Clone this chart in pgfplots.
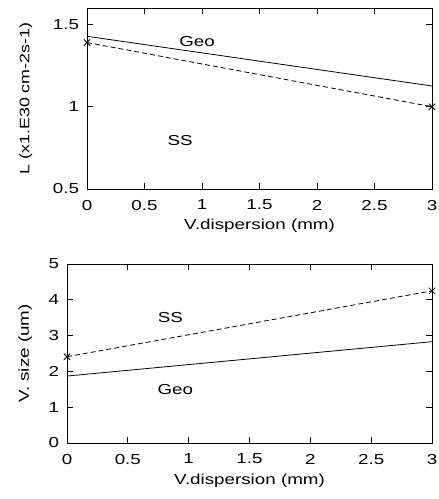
\documentclass[border=0pt]{standalone}
\usepackage{pgfplots}
\pgfplotsset{compat=1.18}
\usepackage{fontspec}
\setmainfont{Liberation Sans}[FakeStretch=1.3]
\begin{document}
\begin{tikzpicture}
\pgfplotsset{
  every axis/.append style={
    scale only axis,
    font=\fontsize{14.5}{16}\selectfont,
    /pgf/number format/assume math mode=true,
    tick align=inside,
    major tick length=6bp,
    tick style={black, line width=0.7pt},
    axis line style={line width=0.9pt},
    xmin=0, xmax=3,
    xtick={0,0.5,...,3},
    xticklabels={0,0.5,1,1.5,2,2.5,3},
    xticklabel style={yshift=-7.5bp},
    yticklabel style={xshift=-4.5bp},
    xlabel={V.dispersion (mm)},
    every axis plot/.append style={line width=0.8pt, black},
    clip=false,
  }
}
\begin{axis}[
  at={(87bp,310bp)}, anchor=south west,
  width=345bp, height=181bp,
  ymin=0.5, ymax=1.6,
  ytick={0.5,1,1.5},
  yticklabels={0.5,1,1.5},
  ylabel={L (x1.E30 cm-2s-1)},
  xlabel style={at={(axis description cs:0.5,0)}, anchor=north, yshift=-26.5bp},
  ylabel style={at={(axis description cs:-0.177,0.5)}, anchor=center, font=\fontsize{13.8}{16}\selectfont},
]
\addplot[solid, no marks] coordinates {(0,1.428) (3,1.126)};
\addplot[dash pattern=on 5bp off 3bp, mark=x, mark size=4.5bp, mark options={solid}] coordinates {(0,1.39) (3,1.0)};
\node at (axis cs:0.957,1.398) {Geo};
\node at (axis cs:0.81,0.795) {SS};
\end{axis}
\begin{axis}[
  at={(67bp,56bp)}, anchor=south west,
  width=365bp, height=179bp,
  ymin=0, ymax=5,
  ytick={0,1,2,3,4,5},
  ylabel={V. size (um)},
  xlabel style={at={(axis description cs:0.5,0)}, anchor=north, yshift=-27.5bp},
  ylabel style={at={(axis description cs:-0.115,0.5)}, anchor=center},
]
\addplot[solid, no marks] coordinates {(0,1.87) (3,2.83)};
\addplot[dash pattern=on 5bp off 3bp, mark=x, mark size=4.5bp, mark options={solid}] coordinates {(0,2.41) (3,4.25)};
\node at (axis cs:0.85,3.5) {SS};
\node at (axis cs:0.89,1.50) {Geo};
\end{axis}
\pgfresetboundingbox
\path (0,0) rectangle (439bp,499bp);
\end{tikzpicture}
\end{document}
